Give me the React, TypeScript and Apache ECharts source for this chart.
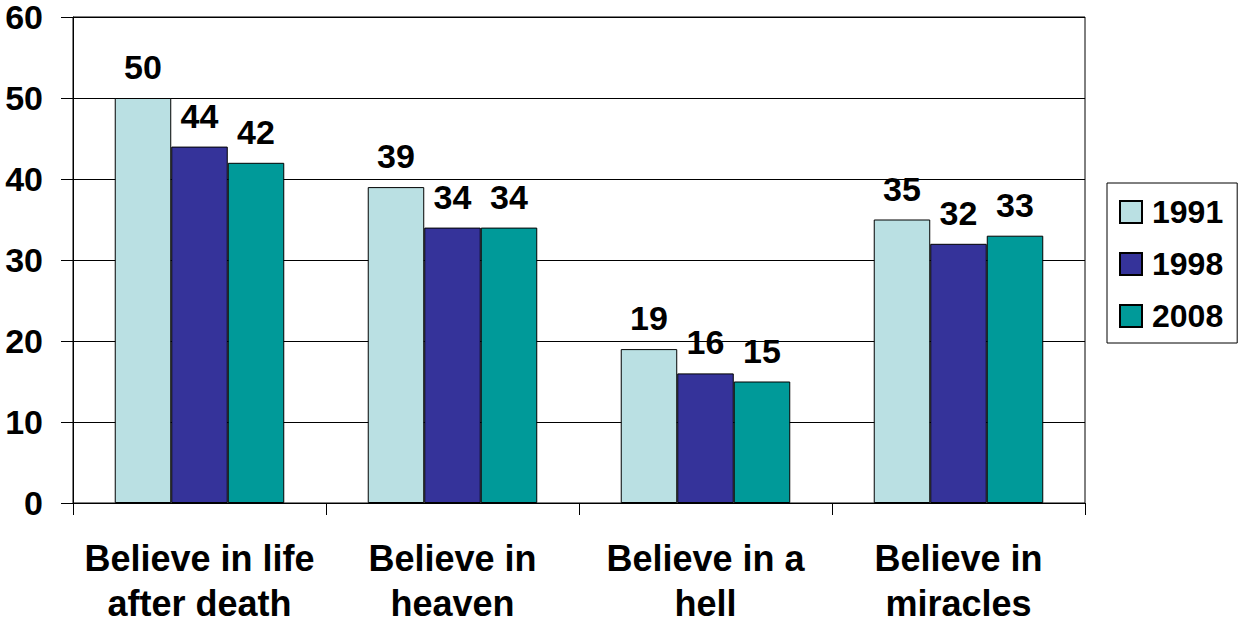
import React, { useEffect, useRef } from "react";
import * as echarts from "echarts";

const categories = ["Believe in life\nafter death", "Believe in\nheaven", "Believe in a\nhell", "Believe in\nmiracles"];
const seriesNames = ["1991", "1998", "2008"];
const values1991 = [50, 39, 19, 35];
const values1998 = [44, 34, 16, 32];
const values2008 = [42, 34, 15, 33];
const colors = ["#BAE0E3", "#35339A", "#009A99"];
const yTicks = { min: 0, max: 60, interval: 10 };

const FONT = "Arial, 'Liberation Sans', sans-serif";

export default function App() {
  const ref = useRef<HTMLDivElement>(null);
  useEffect(() => {
    if (!ref.current) return;
    const chart = echarts.init(ref.current, undefined, { renderer: "svg" });
    const data = [values1991, values1998, values2008];
    chart.setOption({
      animation: false,
      backgroundColor: "#ffffff",
      textStyle: { fontFamily: FONT },
      grid: {
        left: 73,
        right: 159,
        top: 16,
        bottom: 119,
        show: true,
        borderColor: "#000",
        borderWidth: 1,
        containLabel: false,
      },
      legend: {
        orient: "vertical",
        left: 1107,
        top: 183,
        itemWidth: 22,
        itemHeight: 22,
        itemGap: 20,
        borderColor: "#000",
        borderWidth: 1,
        padding: [13, 14, 11, 12],
        icon: "rect",
        data: seriesNames,
        textStyle: {
          fontFamily: FONT,
          fontSize: 32,
          fontWeight: "bold",
          color: "#000",
          padding: [0, 0, 0, 5],
        },
      },
      xAxis: {
        type: "category",
        data: categories,
        axisLine: { show: true, lineStyle: { color: "#000", width: 1 } },
        axisTick: { show: true, length: 12, lineStyle: { color: "#000" } },
        axisLabel: {
          interval: 0,
          margin: 33,
          fontFamily: FONT,
          fontSize: 36,
          fontWeight: "bold",
          color: "#000",
          lineHeight: 45,
        },
      },
      yAxis: {
        type: "value",
        min: yTicks.min,
        max: yTicks.max,
        interval: yTicks.interval,
        axisLine: { show: true, lineStyle: { color: "#000", width: 1 } },
        axisTick: { show: true, length: 12, lineStyle: { color: "#000" } },
        splitLine: { show: true, lineStyle: { color: "#000", width: 1 } },
        axisLabel: {
          margin: 30,
          fontFamily: FONT,
          fontSize: 34,
          fontWeight: "bold",
          color: "#000",
          lineHeight: 26,
        },
      },
      series: seriesNames.map((name, i) => ({
        name,
        type: "bar",
        data: data[i],
        barGap: "0%",
        barCategoryGap: "33%",
        itemStyle: { color: colors[i], borderColor: "#000", borderWidth: 1 },
        label: {
          show: true,
          position: "top",
          distance: 14,
          fontFamily: FONT,
          fontSize: 34,
          fontWeight: "bold",
          color: "#000",
        },
      })),
    });
    return () => chart.dispose();
  }, []);
  return <div ref={ref} style={{ width: 1244, height: 626, position: "absolute", left: 0, top: 0 }} />;
}
